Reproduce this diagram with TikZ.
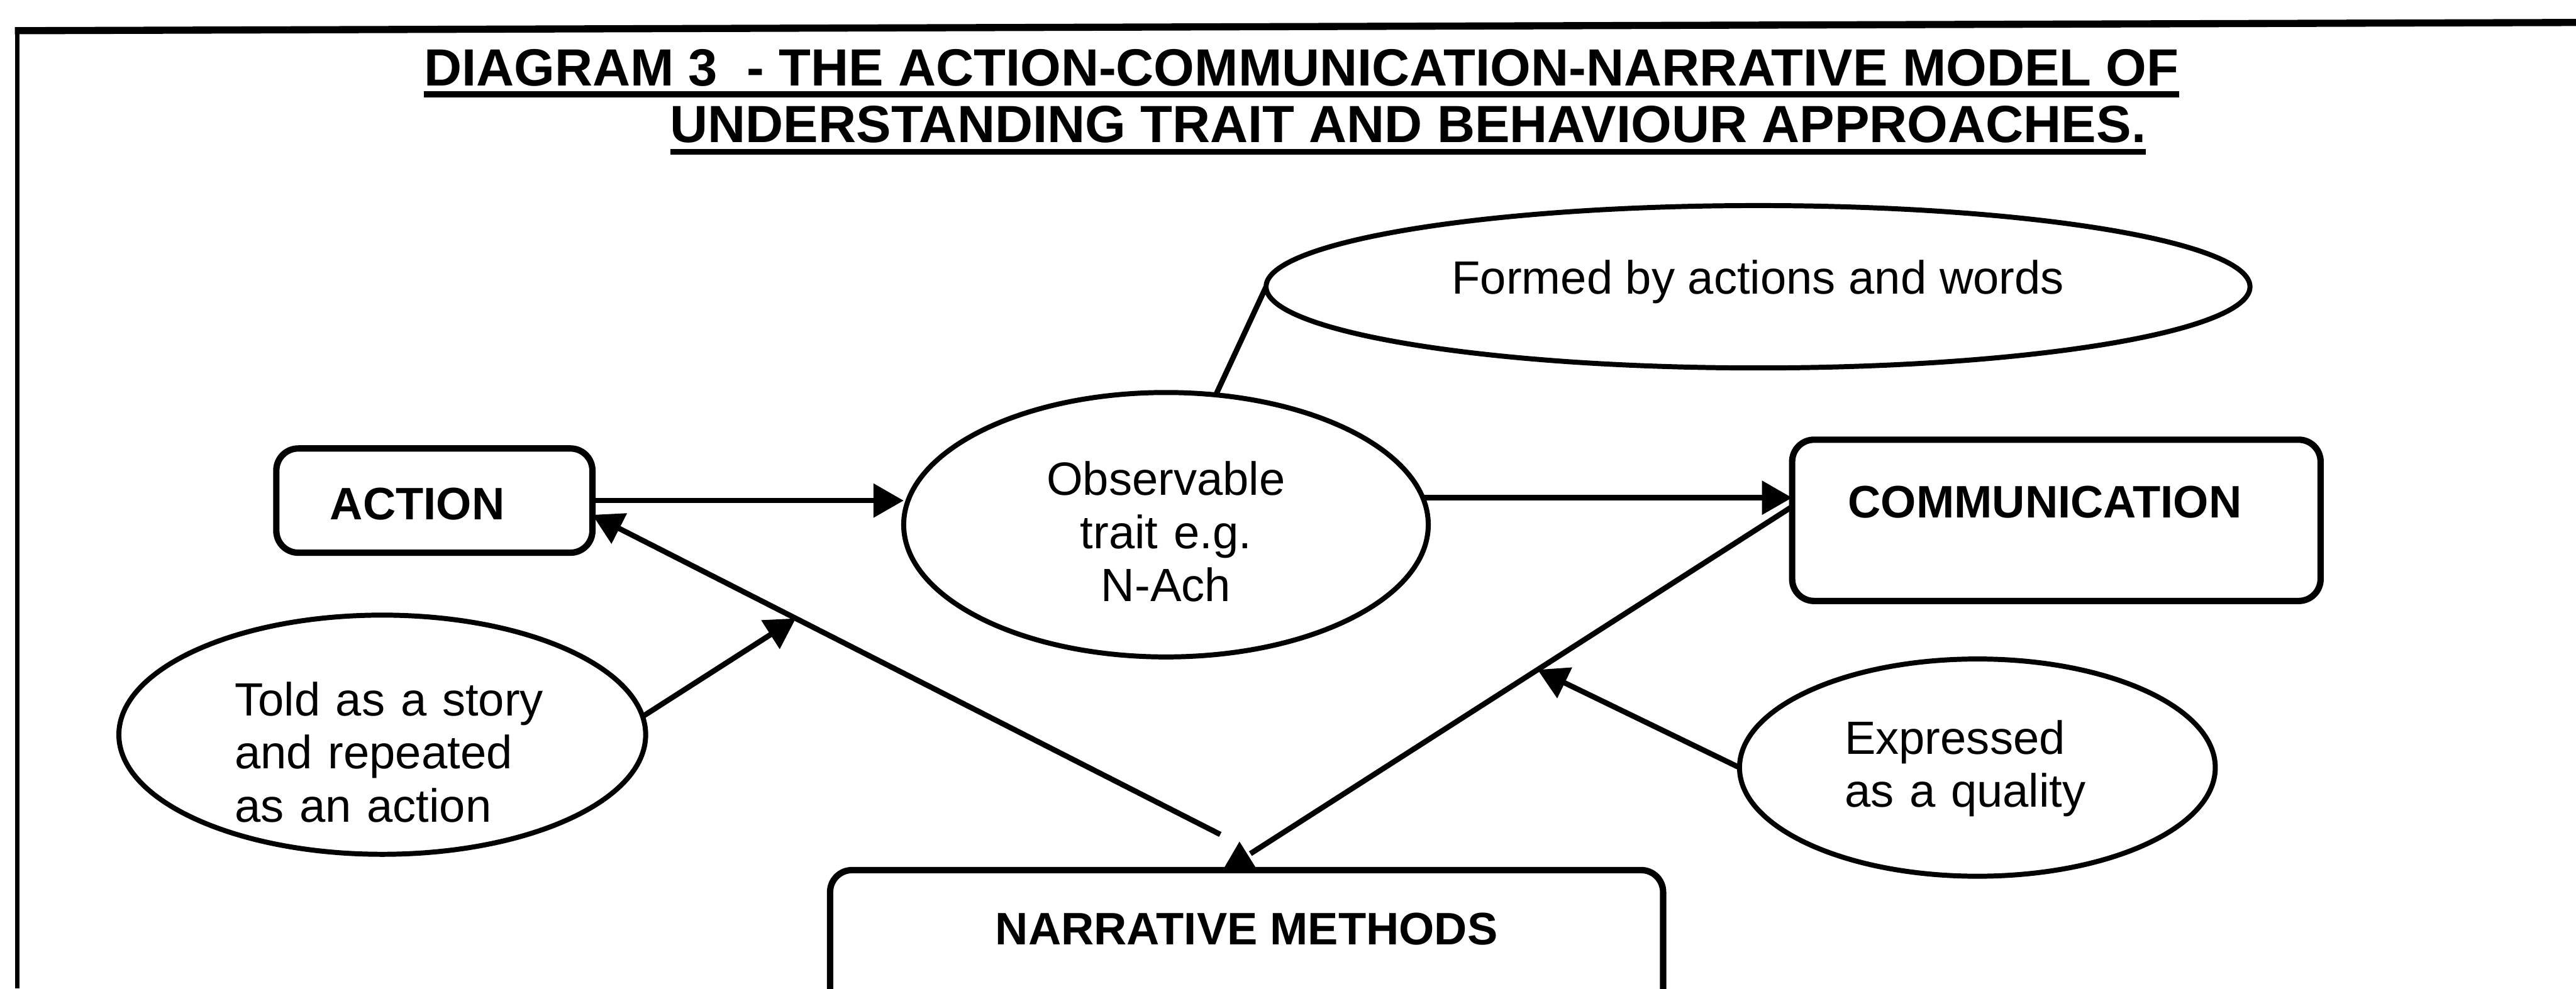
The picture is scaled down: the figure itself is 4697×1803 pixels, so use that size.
\documentclass[tikz,border=0pt]{standalone}
\usepackage{fontspec}
\setmainfont{Liberation Sans}
\usetikzlibrary{shapes.geometric,arrows.meta}
\newcommand\bodyfont{\fontsize{24.2}{27.6}\selectfont}
\newcommand\stagefont{\bfseries\fontsize{23.6}{27.6}\selectfont}
\newcommand\headfont{\bfseries\fontsize{27.15}{30}\selectfont}
\begin{document}
\begin{tikzpicture}[x=0.01cm, y=-0.01cm,
  every node/.style={inner sep=0pt, outer sep=0pt},
  headline/.style={font=\headfont, anchor=base west},
  uline/.style={line width=3.2pt},
  stage/.style={draw, line width=3.3pt, rounded corners=0.4cm, font=\stagefont},
  bubble/.style={draw, ellipse, line width=2.6pt, font=\bodyfont},
  link/.style={line width=2.8pt},
  arr/.style={link, -{Triangle[length=0.55cm, width=0.6cm]}}]
\useasboundingbox (0,0) rectangle (4697,1803);
\draw[line width=2.3pt] (31,1803) -- (31,52);
\draw[line width=3.7pt] (27,56) -- (4697,41);

\node[headline] (head1) at (773,157) {DIAGRAM 3\ \ - THE ACTION-COMMUNICATION-NARRATIVE MODEL OF};
\node[headline] (head2) at (1222,260) {UNDERSTANDING TRAIT AND BEHAVIOUR APPROACHES.};
\draw[uline] ([yshift=-0.15cm]head1.base west) -- ([yshift=-0.15cm]head1.base east);
\draw[uline] ([yshift=-0.17cm]head2.base west) -- ([yshift=-0.17cm]head2.base east);

\node[stage, text width=3.8cm, align=left, inner xsep=0.98cm, text height=1.3cm, text depth=0.6cm] (act) at (792,913) {ACTION};
\node[stage, text width=7.59cm, align=left, inner xsep=1.02cm, text height=1.42cm, text depth=1.52cm] (comm) at (3749.5,949) {COMMUNICATION};
\node[stage, minimum width=15.18cm, align=center, text height=1.36cm, text depth=1.27cm] (narr) at (2273,1718.5) {NARRATIVE METHODS};

\node[bubble, minimum width=9.56cm, minimum height=4.82cm, text width=4.6cm, align=center, text height=0.6cm, text depth=1.68cm] (obs) at (2126,957) {Observable\\trait e.g.\\N-Ach};
\node[bubble, minimum width=17.93cm, minimum height=2.96cm, text height=0.7cm, text depth=0.44cm] (formed) at (3205.5,523) {Formed by actions and words};
\node[bubble, minimum width=9.6cm, minimum height=4.36cm, text width=5.38cm, align=left, text height=0.7cm, text depth=1.4cm] (told) at (697,1340) {Told~as~a~story\\and~repeated\\as~an~action};
\node[bubble, minimum width=8.67cm, minimum height=3.96cm, text width=4.84cm, align=left, text height=0.6cm, text depth=1.1cm] (expr) at (3605.5,1400) {Expressed\\as~a~quality};

\draw[arr] (act.east) -- (act.east -| obs.west);
\draw[arr] (obs.6) -- (obs.6 -| comm.west);
\draw[link] (obs.69) -- (formed.west);
\draw[arr] ([xshift=-0.48cm, yshift=0.65cm]narr.north) -- coordinate[pos=0.676] (storyhit) ([yshift=-0.26cm]act.east);
\draw[arr] (told.4) -- (storyhit);
\draw[link] ([yshift=0.25cm]comm.west) -- coordinate[pos=0.47] (qualityhit) ([xshift=0.07cm, yshift=0.3cm]narr.north);
\fill ([xshift=-0.13cm, yshift=0.52cm]narr.north) -- ([xshift=-0.41cm, yshift=0.04cm]narr.north) -- ([xshift=0.17cm, yshift=0.04cm]narr.north) -- cycle;
\draw[arr] (expr.west) -- (qualityhit);
\end{tikzpicture}
\end{document}
